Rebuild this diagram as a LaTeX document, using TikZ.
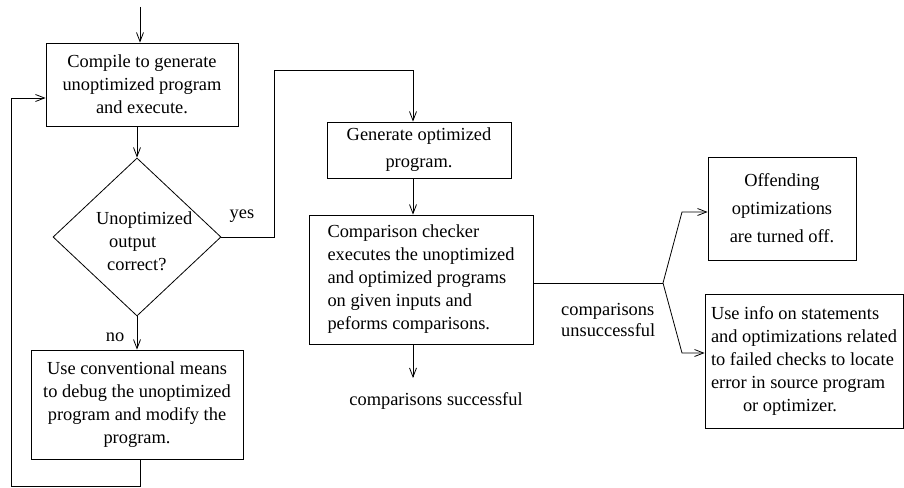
\documentclass[tikz,border=0pt]{standalone}
\usepackage{fontspec}
\setmainfont{Liberation Serif}
\usetikzlibrary{shapes.geometric,arrows.meta}
\begin{document}
\begin{tikzpicture}[x=1pt,y=-1pt,
  every node/.style={font=\fontsize{18.4}{23}\selectfont, inner sep=0pt},
  box/.style={draw, line width=0.8pt, rectangle},
  arr/.style={line width=0.8pt, -{Straight Barb[length=9pt,width=7pt]}},
  ln/.style={line width=0.8pt}]
\useasboundingbox (0,0) rectangle (904,487);
% nodes
\node[box, minimum width=192pt, minimum height=83pt, align=center] (b1) at (142,84.5)
  {Compile to generate\\unoptimized program\\and execute.};
\node[draw, line width=0.8pt, shape=diamond, minimum width=168pt, minimum height=158pt, aspect=1.063] (d) at (137,237) {};
\node[align=left, anchor=west] (dt) at (96,241)
  {Unoptimized\\\hspace*{13pt}output\\\hspace*{11pt}correct?};
\node (yes) at (242,216) {yes};
\node (no) at (115,337) {no};
\node[box, minimum width=212pt, minimum height=109pt, align=center] (b6) at (137,404.5)
  {Use conventional means\\to debug the unoptimized\\program and modify the\\program.};
\node[box, minimum width=184pt, minimum height=56pt, align=center, font=\fontsize{18.4}{27}\selectfont] (b2) at (419,150)
  {Generate optimized\\program.};
\node[box, minimum width=224pt, minimum height=129pt, align=left] (b3) at (421,279.5)
  {Comparison checker\\executes the unoptimized\\and optimized programs\\on given inputs and\\peforms comparisons.};
\node (succ) at (436,401) {comparisons successful};
\node[align=left, anchor=west, font=\fontsize{18.4}{21}\selectfont] (unsucc) at (561,320)
  {comparisons\\unsuccessful};
\node[box, minimum width=148pt, minimum height=103pt, align=center, font=\fontsize{18.4}{28}\selectfont] (b4) at (782,208.5)
  {Offending\\optimizations\\are turned off.};
\node[box, minimum width=198pt, minimum height=134pt, align=left] (b5) at (804,361)
  {Use info on statements\\and optimizations related\\to failed checks to locate\\error in source program\\\hspace*{32pt}or optimizer.};
% coordinates
\coordinate (start) at (140,7);
\coordinate (c1) at (274,70);
\coordinate (c2) at (413,70);
\coordinate (j) at (663,283);
\coordinate (ju) at (682,212);
\coordinate (jd) at (682,353);
\coordinate (send) at (413,378);
\coordinate (l1) at (140,486);
\coordinate (l2) at (11,486);
\coordinate (l3) at (11,98);
% connectors
\draw[arr] (start) -- (start |- b1.north);
\draw[arr] (b1.south -| d.north) -- (d.north);
\draw[arr] (d.east) -| (c1) -- (c2) -- (c2 |- b2.north);
\draw[arr] (b2.south -| c2) -- (c2 |- b3.north);
\draw[arr] (b3.south -| send) -- (send);
\draw[ln] (b3.east |- j) -- (j);
\draw[arr] (j) -- (ju) -- (ju -| b4.west);
\draw[arr] (j) -- (jd) -- (jd -| b5.west);
\draw[arr] (d.south) -- (b6.north -| d.south);
\draw[arr] (b6.south -| l1) -- (l1) -- (l2) -- (l3) -- (l3 -| b1.west);
\end{tikzpicture}
\end{document}
